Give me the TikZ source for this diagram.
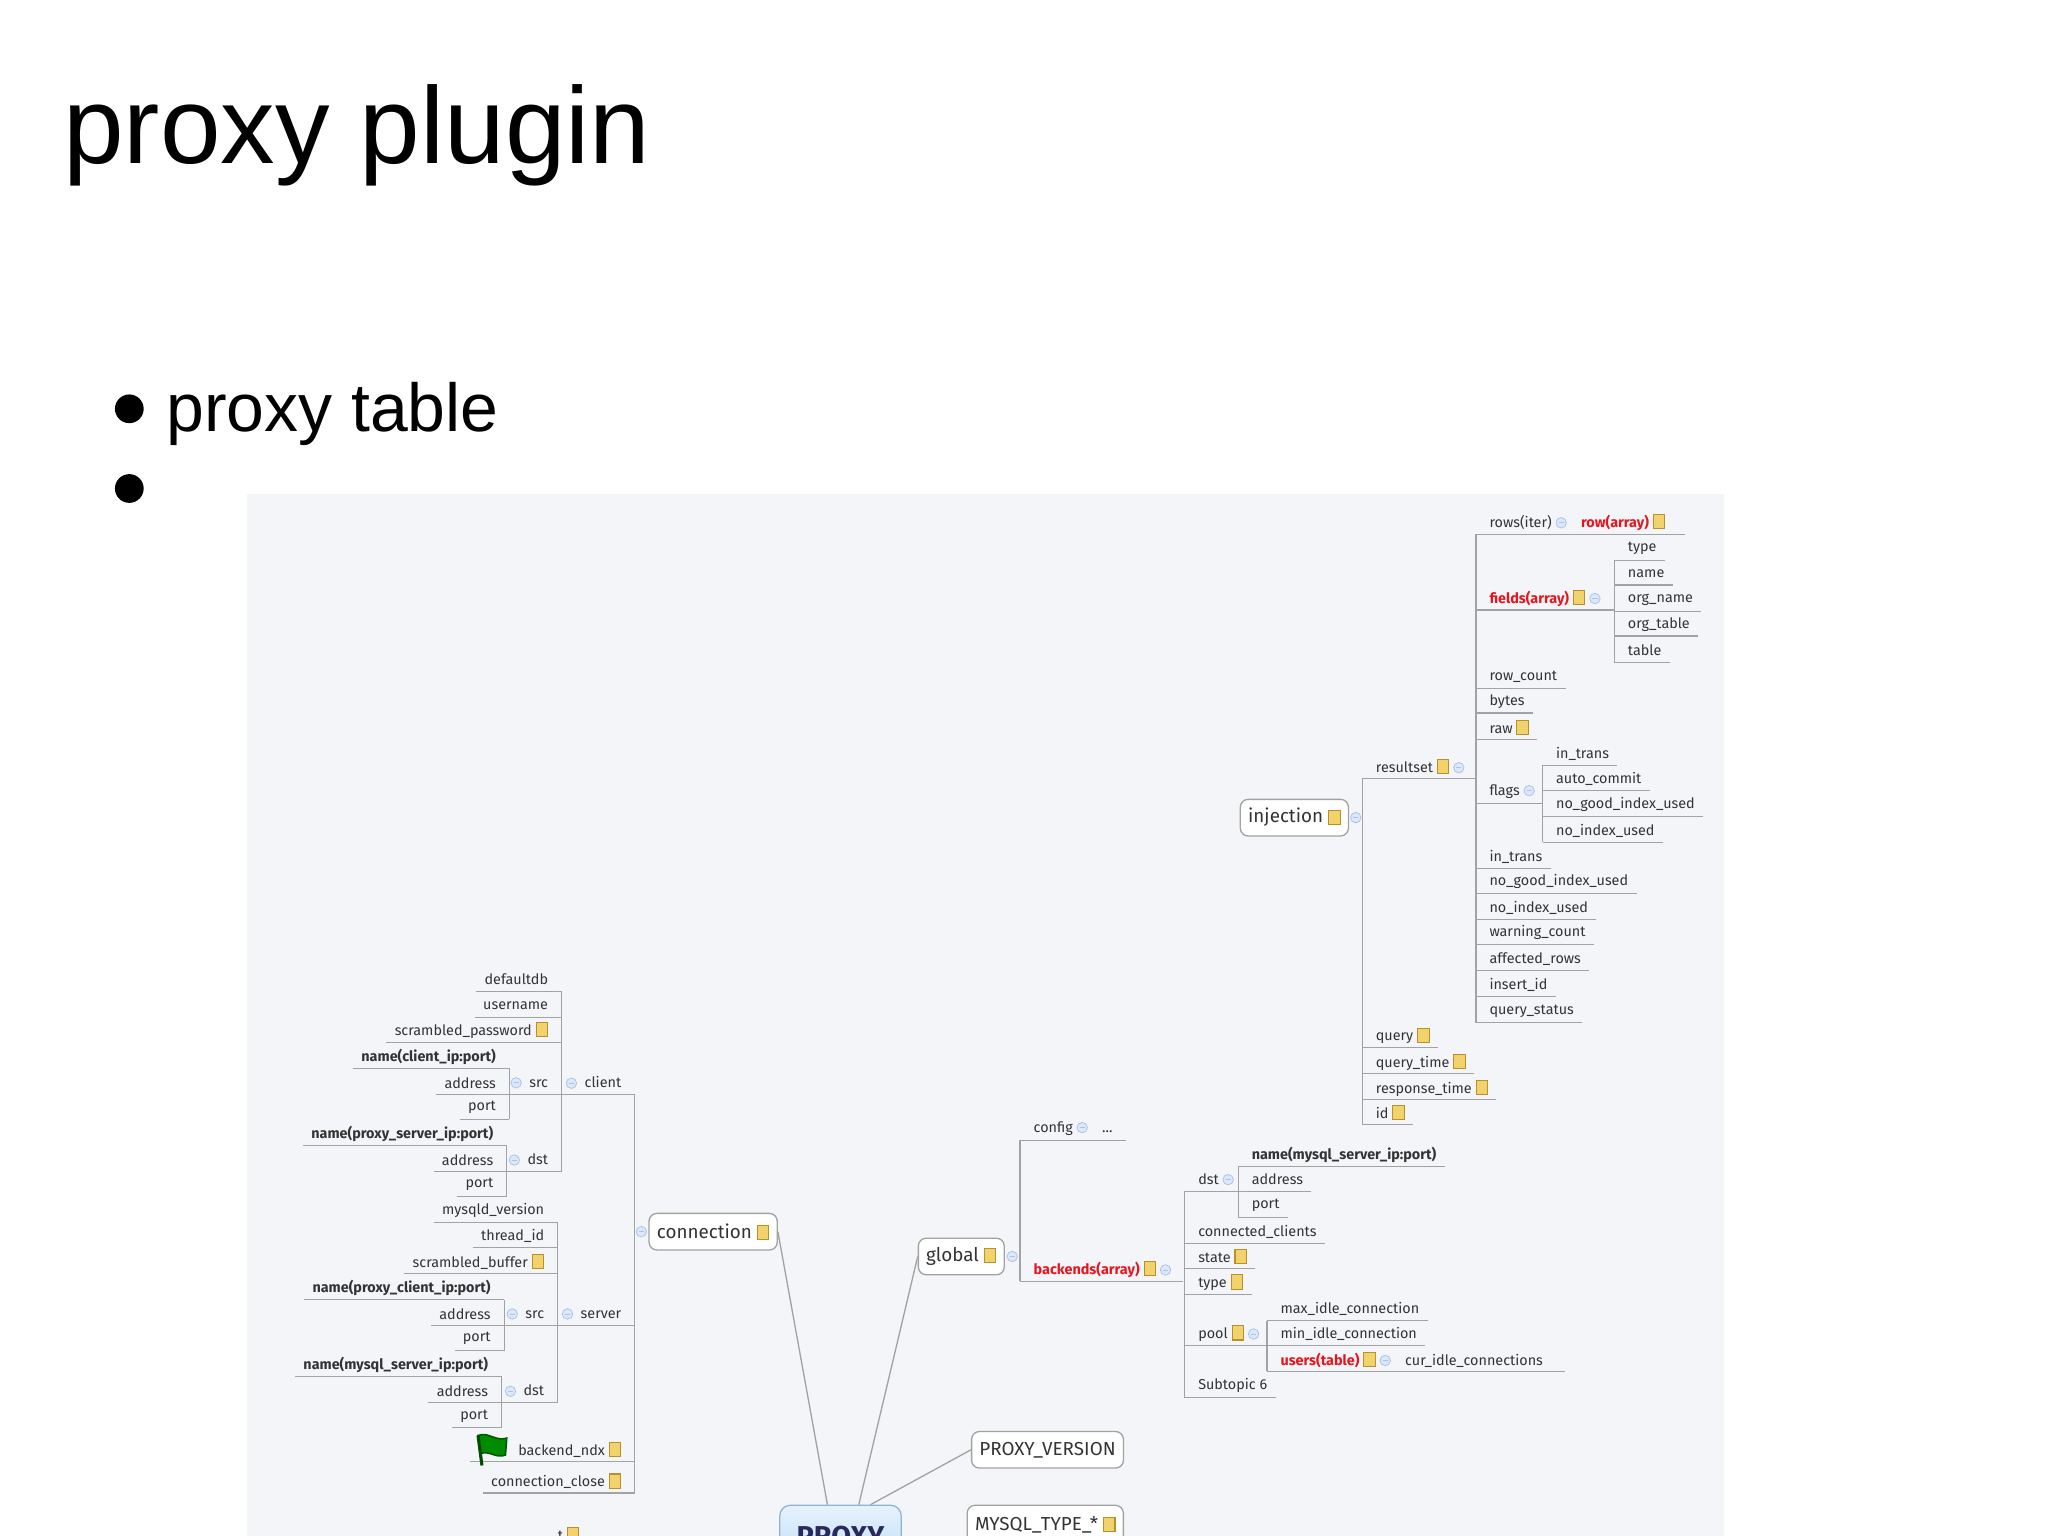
\documentclass[tikz,border=0pt]{standalone}
\usepackage{fontspec}
\setmainfont{Fira Sans}
\newfontfamily\arialf{Liberation Sans}
\definecolor{txt}{HTML}{333333}
\definecolor{lgray}{HTML}{A2A2A2}
\definecolor{bgc}{HTML}{F4F5F9}
\definecolor{redt}{HTML}{E8141B}
\definecolor{noteyl}{HTML}{F2D36B}
\definecolor{notebd}{HTML}{B8912C}
\definecolor{circ}{HTML}{A9C4EA}
\definecolor{circf}{HTML}{DCE7F7}
\definecolor{pxtop}{HTML}{E6F2FC}
\definecolor{pxbot}{HTML}{B5D9F5}
\definecolor{pxbd}{HTML}{8DB4D8}
\newcommand\nte{\raisebox{-0.3pt}{\setlength\fboxsep{0pt}\setlength\fboxrule{0.4pt}\fcolorbox{notebd}{noteyl}{\rule{0pt}{5pt}\hspace{4pt}}}}
\newcommand\cmi{\tikz[baseline=-1.8pt]{\draw[circ,fill=circf,line width=0.3pt] (0,0) circle (2pt); \draw[circ,line width=0.3pt] (-1pt,0) -- (1pt,0);}}
\newcommand\rd[1]{\textcolor{redt}{\bfseries #1}}
\tikzset{
 lf/.style={font=\fontsize{5.5}{6}\selectfont, inner xsep=3pt, inner ysep=0.5pt, text=txt},
 ln/.style={draw=lgray, line width=0.5pt},
 box/.style={draw=lgray, fill=white, rounded corners=3pt, line width=0.5pt, font=\fontsize{7.2}{8}\selectfont, text=txt, inner xsep=3pt, minimum height=14pt},
}
\newcommand\RR[4]{\node[lf,anchor=west] (#1) at (#2+4,#3) {#4};
 \coordinate (#1u) at (#2,#3+9); \draw[ln] (#1u) -- (#1u -| #1.east);}
\newcommand\RRe[5]{\node[lf,anchor=west] (#1) at (#2+4,#3) {#4};
 \draw[ln] (#2,#3+9) -- (#5,#3+9);}
\newcommand\LL[4]{\node[lf,anchor=east] (#1) at (#2-4,#3) {#4};
 \coordinate (#1u) at (#2,#3+9); \draw[ln] (#1u) -- (#1u -| #1.west);}
\newcommand\LLe[5]{\node[lf,anchor=east] (#1) at (#2-4,#3) {#4};
 \draw[ln] (#2,#3+9) -- (#5,#3+9);}
\newcommand\VV[3]{\draw[ln,rounded corners=2pt] (#1,#2) -- (#1,#3);}
\begin{document}
\begin{tikzpicture}[x=0.5pt,y=-0.5pt]
\useasboundingbox (0,0) rectangle (1568,1176);
\clip (0,0) rectangle (1568,1176);
\fill[white] (0,0) rectangle (1568,1176);
\node[anchor=base west, inner sep=0, font=\arialf\fontsize{41.7}{48}\selectfont] (title) at (48,125) {proxy plugin};
\fill (99,313) circle[radius=5.5pt];
\fill (99,374) circle[radius=5.5pt];
\node[anchor=base west, inner sep=0, font=\arialf\fontsize{26}{30}\selectfont] (bul) at (127,330) {proxy table};
\fill[bgc] (189,378) rectangle (1320,1176);

% ---------- injection ----------
\node[box] (inj) at (991,626) {injection \nte};
\node[inner sep=0] (injc) at (1038,626) {\cmi};
\VV{1043}{596}{861}
\RRe{rs}{1043}{587}{resultset \nte\ \cmi}{1130}
\RR{q}{1043}{793}{query \nte}
\RR{qt}{1043}{813}{query\_time \nte}
\RR{rt}{1043}{833}{response\_time \nte}
\RR{id}{1043}{852}{id \nte}
\VV{1130}{409}{783}
\RRe{rows}{1130}{400}{rows(iter) \cmi\quad\rd{row(array)} \nte}{1290}
\RRe{flds}{1130}{458}{\rd{fields(array)} \nte\ \cmi}{1236}
\RR{rc}{1130}{518}{row\_count}
\RR{by}{1130}{537}{bytes}
\RR{raw}{1130}{557}{raw \nte}
\RRe{flg}{1130}{606}{flags \cmi}{1181}
\RR{it}{1130}{656}{in\_trans}
\RR{ngi}{1130}{675}{no\_good\_index\_used}
\RR{niu}{1130}{695}{no\_index\_used}
\RR{wc}{1130}{714}{warning\_count}
\RR{ar}{1130}{734}{affected\_rows}
\RR{ii}{1130}{754}{insert\_id}
\RR{qs}{1130}{774}{query\_status}
\VV{1236}{429}{507}
\RR{fty}{1236}{420}{type}
\RR{fna}{1236}{439}{name}
\RR{fon}{1236}{459}{org\_name}
\RR{fot}{1236}{478}{org\_table}
\RR{fta}{1236}{498}{table}
\VV{1181}{586}{645}
\RR{fit}{1181}{577}{in\_trans}
\RR{fac}{1181}{596}{auto\_commit}
\RR{fng}{1181}{616}{no\_good\_index\_used}
\RR{fni}{1181}{636}{no\_index\_used}

% ---------- global ----------
\node[box] (glob) at (736,962) {global \nte};
\node[inner sep=0] (globc) at (775,962) {\cmi};
\VV{781}{873}{981}
\RRe{cfg}{781}{864}{config \cmi\quad ...}{862}
\RRe{bk}{781}{972}{\rd{backends(array)} \nte\ \cmi}{906}
\VV{907}{912}{1070}
\RRe{bdst}{907}{903}{dst \cmi}{948}
\RR{cc}{907}{943}{connected\_clients}
\RR{st}{907}{962}{state \nte}
\RR{ty}{907}{982}{type \nte}
\RRe{pool}{907}{1021}{pool \nte\ \cmi}{970}
\RR{sub}{907}{1061}{Subtopic 6}
\VV{948}{893}{932}
\RR{bn}{948}{884}{\bfseries name(mysql\_server\_ip:port)}
\RR{ba}{948}{903}{address}
\RR{bp}{948}{923}{port}
\VV{970}{1011}{1050}
\RR{mx}{970}{1002}{max\_idle\_connection}
\RR{mn}{970}{1021}{min\_idle\_connection}
\RRe{us}{970}{1041}{\rd{users(table)} \nte\ \cmi\quad cur\_idle\_connections}{1198}

% ---------- connection ----------
\node[box] (conn) at (546,943) {connection \nte};
\node[inner sep=0] (connc) at (491,943) {\cmi};
\VV{486}{838}{1143}
\LLe{cl}{486}{829}{\cmi\ \ client}{430}
\LLe{sv}{486}{1006}{\cmi\ \ server}{427}
\LLe{bnd}{486}{1110}{\hspace{12pt}backend\_ndx \nte}{360}
\LL{cclose}{486}{1134}{connection\_close \nte}
\VV{430}{759}{897}
\LL{ddb}{430}{750}{defaultdb}
\LL{un}{430}{770}{username}
\LL{sp}{430}{789}{scrambled\_password \nte}
\LLe{csrc}{430}{829}{\cmi\ \ src}{390}
\LLe{cdst}{430}{888}{\cmi\ \ dst}{388}
\VV{390}{818}{857}
\LL{csn}{390}{809}{\bfseries name(client\_ip:port)}
\LL{csa}{390}{829}{address}
\LL{csp}{390}{848}{port}
\VV{388}{877}{916}
\LL{cdn}{388}{868}{\bfseries name(proxy\_server\_ip:port)}
\LL{cda}{388}{888}{address}
\LL{cdp}{388}{907}{port}
\VV{427}{936}{1074}
\LL{mv}{427}{927}{mysqld\_version}
\LL{tid}{427}{946}{thread\_id}
\LL{sb}{427}{966}{scrambled\_buffer \nte}
\LLe{ssrc}{427}{1006}{\cmi\ \ src}{386}
\LLe{sdst}{427}{1065}{\cmi\ \ dst}{384}
\VV{386}{995}{1034}
\LL{ssn}{386}{986}{\bfseries name(proxy\_client\_ip:port)}
\LL{ssa}{386}{1006}{address}
\LL{ssp}{386}{1025}{port}
\VV{384}{1054}{1093}
\LL{sdn}{384}{1045}{\bfseries name(mysql\_server\_ip:port)}
\LL{sda}{384}{1065}{address}
\LL{sdp}{384}{1084}{port}
% flag
\draw[draw=green!35!black, line width=0.6pt, fill=green!55!black] (366,1099) .. controls (374,1096) and (380,1104) .. (388,1101) -- (387,1114) .. controls (380,1117) and (374,1110) .. (368,1113) -- cycle;
\draw[green!30!black, line width=1.2pt] (366,1099) -- (369,1122);
% partially visible item at the bottom
\node[lf,anchor=east] (cut) at (450,1175) {t \nte};

% ---------- bottom ----------
\node[draw=pxbd, top color=pxtop, bottom color=pxbot, rounded corners=4pt, minimum width=46.5pt, minimum height=28pt, anchor=north, line width=0.5pt] (prx) at (643.5,1152) {};
\node[anchor=north, inner sep=0, font=\bfseries\fontsize{11}{12}\selectfont, text=txt!80!blue] (prxt) at (643.5,1168) {PROXY};
\node[box] (pv) at (802,1110) {PROXY\_VERSION};
\node[box, anchor=north west, minimum height=20pt] (mt) at (740,1152) {\raisebox{6pt}{MYSQL\_TYPE\_* \nte}};
\draw[ln] ([xshift=-5]prx.north) -- (conn.east);
\draw[ln] ([xshift=7]prx.north) -- (glob.west);
\draw[ln] ([xshift=-12]prx.north east) -- (pv.west);
\draw[ln] ([yshift=-18]prx.north east) -- ([yshift=-14]mt.north west);
\end{tikzpicture}
\end{document}
